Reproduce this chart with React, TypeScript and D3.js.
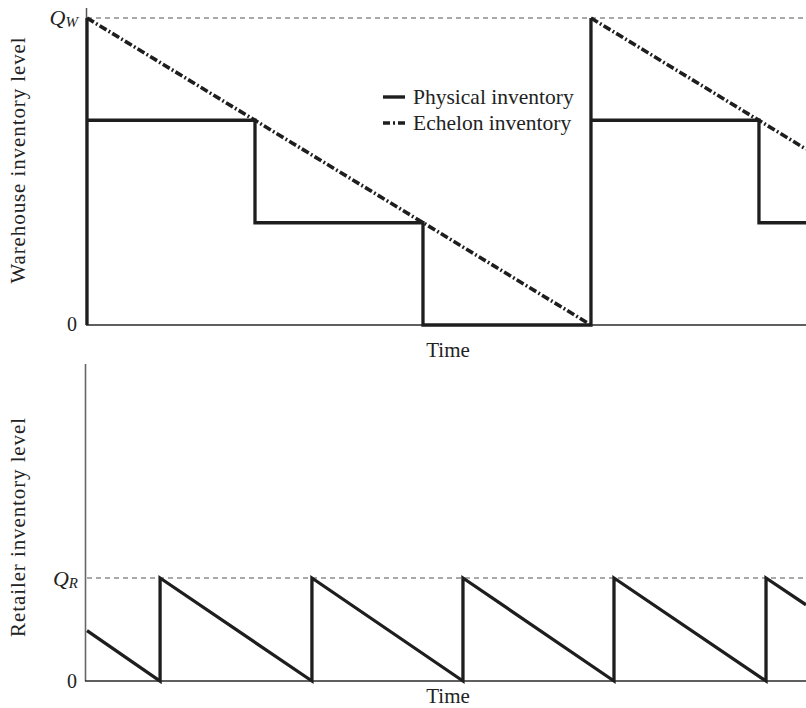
import React from "react";
import * as d3 from "d3";

// ---- data ----
const T_MAX = 4.28;
// warehouse physical inventory (step path), time & level (fraction of Q_W)
const physTime = [0, 0, 0, 1, 1, 2, 2, 3, 3, 3, 4, 4, T_MAX];
const physLevel = [0, 1, 0.667, 0.667, 0.333, 0.333, 0, 0, 1, 0.667, 0.667, 0.333, 0.333];
// echelon inventory segments
const echelonSeg1Time = [0, 3];
const echelonSeg1Level = [1, 0];
const echelonSeg2Time = [3, T_MAX];
const echelonSeg2Level = [1, 0.573];
// retailer inventory (sawtooth), fraction of Q_R
const retTime = [0, 0.435, 0.435, 1.339, 1.339, 2.238, 2.238, 3.137, 3.137, 4.042, 4.042, T_MAX];
const retLevel = [0.49, 0, 1, 0, 1, 0, 1, 0, 1, 0, 1, 0.74];

const legendLabels = ["Physical inventory", "Echelon inventory"];
const axisTitleTop = "Warehouse inventory level";
const axisTitleBottom = "Retailer inventory level";
const xTitle = "Time";

const W = 806;
const H = 708;
const FONT = "'Liberation Serif', 'Times New Roman', serif";

export default function App() {
  const x = d3.scaleLinear().domain([0, T_MAX]).range([87, 806]);
  const yTop = d3.scaleLinear().domain([0, 1]).range([325, 18]);
  const yBot = d3.scaleLinear().domain([0, 1]).range([681, 578]);

  const zip = (t: number[], v: number[]) => t.map((tt, i) => [tt, v[i]] as [number, number]);
  const lineTop = d3.line<[number, number]>().x((d) => x(d[0])).y((d) => yTop(d[1]));
  const lineBot = d3.line<[number, number]>().x((d) => x(d[0])).y((d) => yBot(d[1]));

  const dashEchelon = "8,2.5,1.8,2.5";
  const ink = "#1e1e1e";

  return (
    <svg
      width={W}
      height={H}
      style={{ position: "absolute", left: 0, top: 0, background: "#fff" }}
      fontFamily={FONT}
    >
      {/* ---------- top panel ---------- */}
      <line x1={x(0)} x2={W} y1={yTop(1)} y2={yTop(1)} stroke="#555" strokeWidth={1.1} strokeDasharray="5,4" />
      <line x1={86.5} x2={86.5} y1={8} y2={yTop(0)} stroke="#555" strokeWidth={1.5} />
      <line x1={86} x2={W} y1={yTop(0)} y2={yTop(0)} stroke="#2a2a2a" strokeWidth={1.6} />
      <path d={lineTop(zip(echelonSeg1Time, echelonSeg1Level)) || ""} fill="none" stroke={ink} strokeWidth={3.6} strokeDasharray={dashEchelon} />
      <path d={lineTop(zip(echelonSeg2Time, echelonSeg2Level)) || ""} fill="none" stroke={ink} strokeWidth={3.6} strokeDasharray={dashEchelon} />
      <path d={lineTop(zip(physTime, physLevel)) || ""} fill="none" stroke={ink} strokeWidth={3.3} strokeLinejoin="miter" />

      <text x={78} y={25} textAnchor="end" fontSize={22} fill="#222">
        <tspan fontStyle="italic">Q</tspan>
        <tspan fontStyle="italic" fontSize={15} dy={2}>W</tspan>
      </text>
      <text x={77} y={331} textAnchor="end" fontSize={20} fill="#222">0</text>
      <text x={448} y={357} textAnchor="middle" fontSize={21} fill="#222">{xTitle}</text>
      <text
        transform={`translate(25,${160}) rotate(-90)`}
        textAnchor="middle"
        fontSize={21}
        fill="#222"
        letterSpacing={0.9}
      >
        {axisTitleTop}
      </text>

      {/* legend */}
      <line x1={383} x2={405} y1={97} y2={97} stroke={ink} strokeWidth={3.4} />
      <text x={413} y={104} fontSize={21.5} fill="#222">{legendLabels[0]}</text>
      <line x1={383} x2={405} y1={123} y2={123} stroke={ink} strokeWidth={3.4} strokeDasharray="7,3,2,3" />
      <text x={413} y={130} fontSize={21.5} fill="#222">{legendLabels[1]}</text>

      {/* ---------- bottom panel ---------- */}
      <line x1={x(0)} x2={W} y1={yBot(1)} y2={yBot(1)} stroke="#555" strokeWidth={1.1} strokeDasharray="5,4" />
      <line x1={85.5} x2={85.5} y1={364} y2={yBot(0)} stroke="#666" strokeWidth={1.6} />
      <line x1={85} x2={W} y1={yBot(0)} y2={yBot(0)} stroke="#2a2a2a" strokeWidth={1.6} />
      <path d={lineBot(zip(retTime, retLevel)) || ""} fill="none" stroke={ink} strokeWidth={3.3} strokeLinejoin="miter" />

      <text x={78} y={586} textAnchor="end" fontSize={22} fill="#222">
        <tspan fontStyle="italic">Q</tspan>
        <tspan fontStyle="italic" fontSize={15} dy={2}>R</tspan>
      </text>
      <text x={77} y={688} textAnchor="end" fontSize={20} fill="#222">0</text>
      <text x={448} y={703} textAnchor="middle" fontSize={21} fill="#222">{xTitle}</text>
      <text
        transform={`translate(25,${527}) rotate(-90)`}
        textAnchor="middle"
        fontSize={21}
        fill="#222"
        letterSpacing={0.9}
      >
        {axisTitleBottom}
      </text>
    </svg>
  );
}
